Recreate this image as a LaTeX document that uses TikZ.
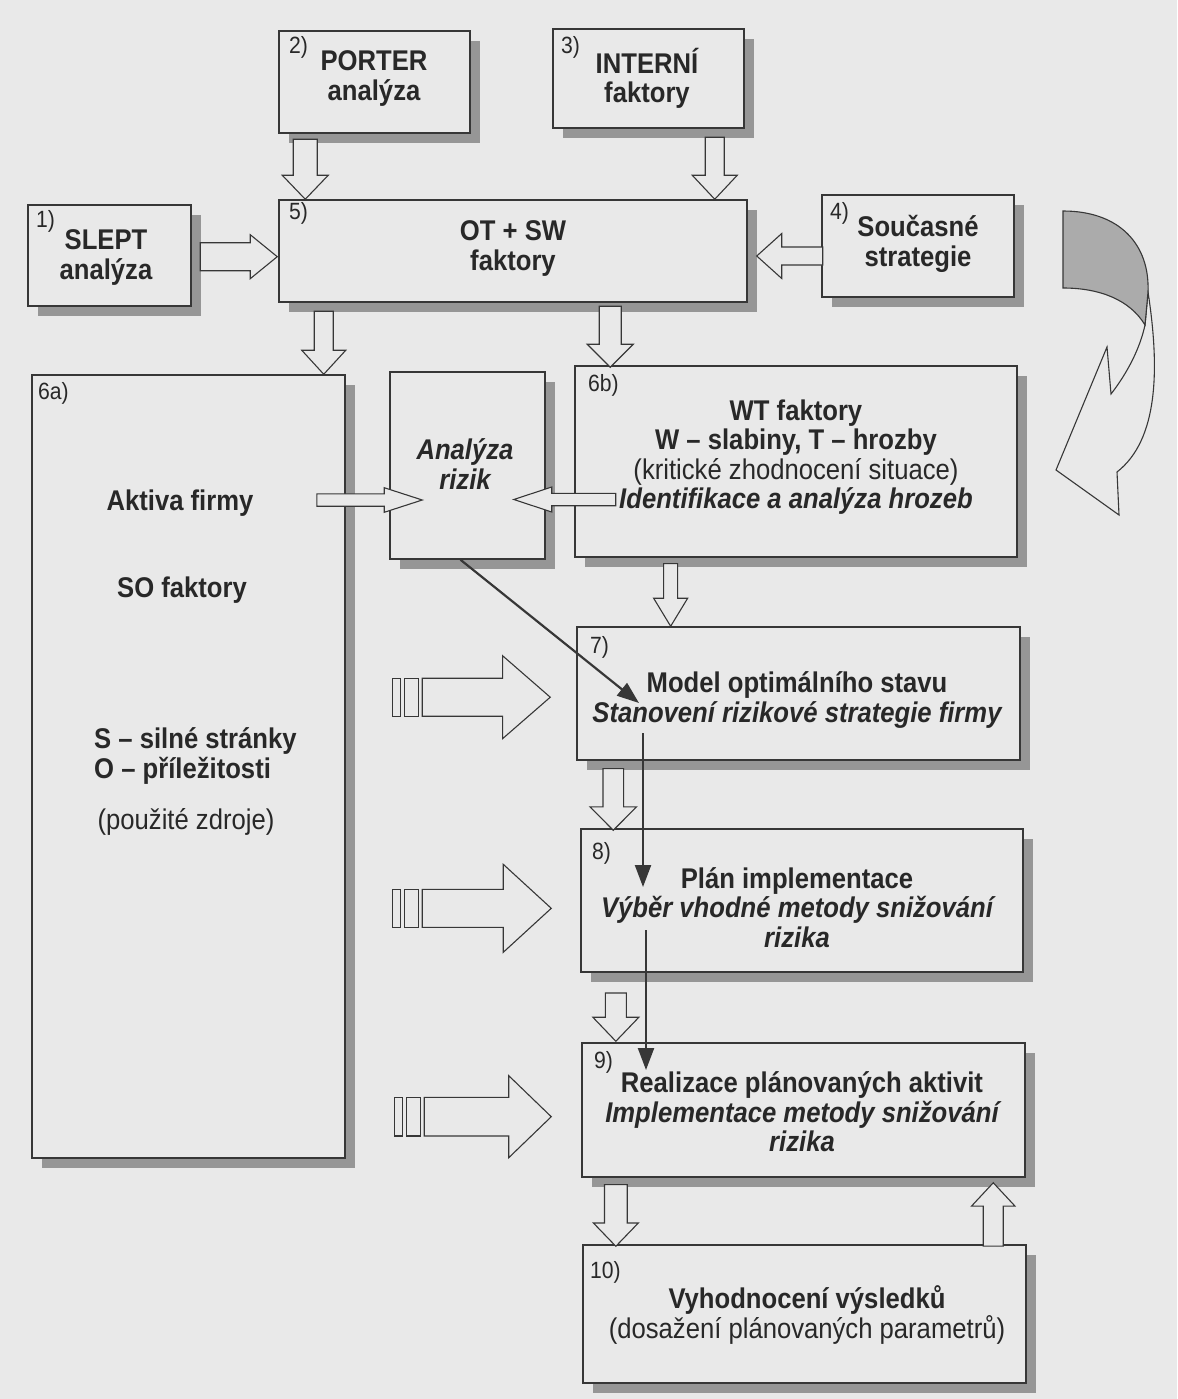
\documentclass[tikz,border=0pt]{standalone}
\usepackage{fontspec}
\setmainfont{Liberation Sans}[FakeStretch=0.9]
\usetikzlibrary{calc,arrows.meta,shadows,fit}
\definecolor{bgc}{RGB}{233,233,233}
\definecolor{linec}{RGB}{55,55,55}
\definecolor{shc}{RGB}{150,150,150}
\definecolor{txc}{RGB}{40,40,40}
\newcommand\blk[6]{% tip, angle, length, shaft half width, head half width, head length
  \draw[blkarrow, shift={#1}, rotate=#2] (0,0) -- (-#6,#5) -- (-#6,#4) -- (-#3,#4) -- (-#3,-#4) -- (-#6,-#4) -- (-#6,-#5) -- cycle;}
\newcommand\blkbars[6]{\blk{#1}{#2}{#3}{#4}{#5}{#6}%
  \draw[blkarrow, shift={#1}, rotate=#2] (-#3-4,-#4) rectangle (-#3-18,#4);
  \draw[blkarrow, shift={#1}, rotate=#2] (-#3-22,-#4) rectangle (-#3-30,#4);}
\begin{document}
\begin{tikzpicture}[x=1pt,y=-1pt,
  box/.style={draw=linec, line width=1.5pt, fill=bgc, inner sep=0pt,
    drop shadow={shadow xshift=10pt, shadow yshift=-10pt, fill=shc, opacity=1}},
  blkarrow/.style={draw=linec, line width=1.1pt, fill=bgc, line join=miter},
  ln/.style={draw=linec, line width=2.2pt, -{Triangle[length=22pt,width=16pt]}},
  tt/.style={font=\fontsize{28.5}{29.5}\selectfont\bfseries, align=center, text=txc, inner sep=0pt},
  ti/.style={font=\fontsize{28.5}{29.5}\selectfont\bfseries\itshape, align=center, text=txc, inner sep=0pt},
  tr/.style={font=\fontsize{28.5}{29.5}\selectfont, align=center, text=txc, inner sep=0pt},
  num/.style={font=\fontsize{23.5}{24}\selectfont, text=txc, inner sep=0pt, anchor=west}]
\fill[bgc] (0,0) rectangle (1177,1399);
\useasboundingbox (0,0) rectangle (1177,1399);

% boxes
\node[box, fit={(28,205) (191,306)}] (b1) {};
\node[box, fit={(279,31) (470,133)}] (b2) {};
\node[box, fit={(553,29) (744,128)}] (b3) {};
\node[box, fit={(822,195) (1014,297)}] (b4) {};
\node[box, fit={(279,200) (747,302)}] (b5) {};
\node[box, fit={(32,375) (345,1158)}] (b6a) {};
\node[box, fit={(390,372) (545,559)}] (ar) {};
\node[box, fit={(575,366) (1017,557)}] (b6b) {};
\node[box, fit={(577,627) (1020,760)}] (b7) {};
\node[box, fit={(581,829) (1023,972)}] (b8) {};
\node[box, fit={(582,1043) (1025,1177)}] (b9) {};
\node[box, fit={(583,1245) (1026,1383)}] (b10) {};

% block arrows
\blk{($(b5.north west)+(27,0)$)}{-90}{60}{12}{23}{24}
\blk{($(b5.north west)+(436.5,0)$)}{-90}{62}{9.5}{22.5}{24}
\blk{($(b5.west)+(-1,5.7)$)}{0}{77}{14}{22}{27}
\blk{($(b5.east)+(9,5)$)}{180}{66}{9}{22.5}{25}
\blk{($(b6a.north west)+(292.5,0)$)}{-90}{63}{9.5}{22}{24}
\blk{($(b6b.north west)+(36,2)$)}{-90}{61}{11}{23}{23}
\blk{($(b7.north west)+(94.4,0)$)}{-90}{62.7}{7}{17}{28}
\blk{($(b8.north west)+(33,2)$)}{-90}{61.7}{10.3}{23.3}{23.4}
\blk{($(b9.north west)+(34.6,-1)$)}{-90}{48.3}{10.5}{23}{24}
\blk{($(b10.north west)+(33.6,2)$)}{-90}{61.6}{11.4}{22.5}{23.3}
\blk{($(b9.south east)+(-32.5,5)$)}{90}{63.3}{10}{21.7}{23.3}
\blk{($(ar.west)+(33,34.5)$)}{0}{105.4}{6.2}{12.3}{38}
\blk{($(ar.east)+(-32,34)$)}{180}{102}{6.2}{12.5}{38}
\blkbars{($(b7.west)+(-26,3.7)$)}{0}{128}{19}{41.5}{47.7}
\blkbars{($(b8.west)+(-29,7.8)$)}{0}{129}{19}{44}{48}
\blkbars{($(b9.west)+(-30,6.7)$)}{0}{127}{19.3}{41}{42.5}

% line arrows
\coordinate (t7) at (639,703);
\coordinate (v1a) at (643,733);
\coordinate (v1b) at (643,887);
\coordinate (v2a) at (646,930);
\coordinate (v2b) at (646,1070);
\draw[ln] ($(ar.south)+(-7,0)$) -- (t7);
\draw[ln] (v1a) -- (v1b);
\draw[ln] (v2a) -- (v2b);

% curved arrow
\draw[draw=linec, line width=1.1pt, fill=bgc, line join=miter]
  (1148,292) .. controls (1160,370) and (1158,440) .. (1117,472) -- (1119,515) -- (1056,470) -- (1107,347) -- (1111,394)
  .. controls (1128,372) and (1140,348) .. (1145,325) -- cycle;
\draw[draw=linec, line width=1.1pt, fill=shc!75!bgc]
  (1063,211) .. controls (1120,211) and (1150,245) .. (1148,292) -- (1145,325)
  .. controls (1130,300) and (1100,288) .. (1063,288) -- cycle;

% numbers
\node[num] (n1) at (36,221) {1)};
\node[num] (n2) at (289,47) {2)};
\node[num] (n3) at (561,47) {3)};
\node[num] (n4) at (830,213) {4)};
\node[num] (n5) at (289,213) {5)};
\node[num] (n6a) at (38,393) {6a)};
\node[num] (n6b) at (588,385) {6b)};
\node[num] (n7) at (590,647) {7)};
\node[num] (n8) at (592,853) {8)};
\node[num] (n9) at (594,1062) {9)};
\node[num] (n10) at (590,1272) {10)};

% texts
\node[tt] (x1) at (106,257.5) {SLEPT\\analýza};
\node[tt] (x2) at (374,78.3) {PORTER\\analýza};
\node[tt] (x3) at (647,78.3) {INTERNÍ\\faktory};
\node[tt] (x5) at (513,248.3) {OT + SW\\faktory};
\node[tt] (x4) at (918,244) {Současné\\strategie};
\node[ti] (xar) at (465,464) {Analýza\\rizik};
\node[tt] (x6b) at (796,457) {WT faktory\\W – slabiny, T – hrozby\\{\mdseries (kritické zhodnocení situace)}\\{\itshape Identifikace a analýza hrozeb}};
\node[tt] (xa1) at (180,502.7) {Aktiva firmy};
\node[tt] (xa2) at (182,590) {SO faktory};
\node[tt, align=left, anchor=west] (xa3) at (94,756) {S – silné stránky\\O – příležitosti};
\node[tr] (xa4) at (186,822) {(použité zdroje)};
\node[tt] (x7) at (797,700) {Model optimálního stavu\\{\itshape Stanovení rizikové strategie firmy}};
\node[tt] (x8) at (797,907.5) {Plán implementace\\{\itshape Výběr vhodné metody snižování}\\{\itshape rizika}};
\node[tt] (x9) at (802,1111.7) {Realizace plánovaných aktivit\\{\itshape Implementace metody snižování}\\{\itshape rizika}};
\node[tt] (x10) at (807,1315) {Vyhodnocení výsledků\\{\mdseries (dosažení plánovaných parametrů)}};
\end{tikzpicture}
\end{document}
